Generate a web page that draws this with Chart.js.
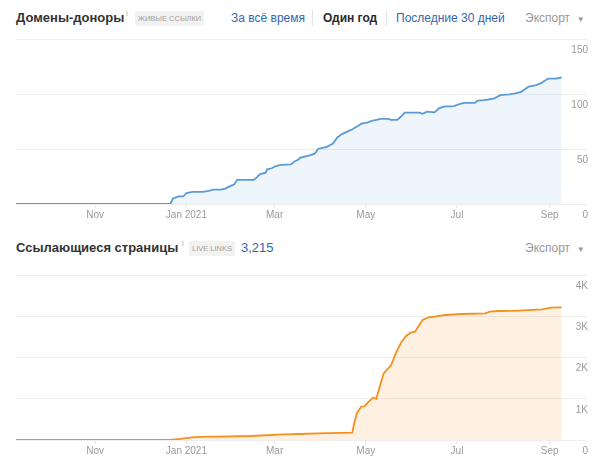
<!DOCTYPE html>
<html>
<head>
    <meta charset="utf-8">
    <title>Домены-доноры / Ссылающиеся страницы</title>
    <script src="https://cdn.jsdelivr.net/npm/chart.js"></script>
    <style>
        body { margin: 0; width: 602px; height: 463px; overflow: hidden; background: #fff;
               font-family: "Liberation Sans", Arial, sans-serif; position: relative; }
        .row { position: absolute; left: 0; width: 602px; height: 20px; }
        .row span { position: absolute; top: 0; line-height: 20px; white-space: nowrap; }
        .title { left: 16px; font-size: 13px; font-weight: bold; color: #333; }
        .info { font-size: 8px; color: #aaa; line-height: 12px !important; }
        .badge { font-size: 7.5px; color: #a0a0a0; background: #f2f2f2; padding: 0 3px;
                 line-height: 15px !important; top: 3px !important; border-radius: 2px; }
        .link { font-size: 12px; color: #2f67b1; }
        .cur { font-size: 12px; font-weight: bold; color: #2a2a2a; }
        .sep { width: 1px; height: 16px; background: #e2e2e2; top: 2px !important; }
        .export { font-size: 12px; color: #999; }
        .chartbox { position: absolute; left: 0; width: 602px; height: 196px; }
    </style>
</head>
<body>
    <div class="row" style="top: 8px;">
        <span class="title">Домены-доноры</span>
        <span class="info" style="left: 126px;">i</span>
        <span class="badge" style="left: 135px;">ЖИВЫЕ ССЫЛКИ</span>
        <span class="link" style="left: 231px;">За всё время</span>
        <span class="sep" style="left: 312px;"></span>
        <span class="cur" style="left: 323px;">Один год</span>
        <span class="sep" style="left: 386px;"></span>
        <span class="link" style="left: 396px;">Последние 30 дней</span>
        <span class="export" style="left: 525px;">Экспорт &nbsp;<span style="position: static; font-size: 8px;">▼</span></span>
    </div>
    <div class="chartbox" style="top: 30px;"><canvas id="domains"></canvas></div>

    <div class="row" style="top: 238px;">
        <span class="title">Ссылающиеся страницы</span>
        <span class="info" style="left: 182px;">i</span>
        <span class="badge" style="left: 189px;">LIVE LINKS</span>
        <span class="link" style="left: 241px; font-size: 13px;">3,215</span>
        <span class="export" style="left: 525px;">Экспорт &nbsp;<span style="position: static; font-size: 8px;">▼</span></span>
    </div>
    <div class="chartbox" style="top: 266px;"><canvas id="pages"></canvas></div>

    <script>
        // days counted from 2020-09-09
        const tickDays = [53, 114, 173, 234, 295, 357];
        const tickLabels = ['Nov', 'Jan 2021', 'Mar', 'May', 'Jul', 'Sep'];

        // Домены-доноры
        const domDays = [0, 103, 104, 105, 109, 112, 114, 118, 125, 129, 132, 137, 140, 143, 146, 148, 159, 161, 163, 167, 168, 171, 174, 177, 184, 186, 189, 190, 197, 200, 202, 208, 212, 215, 218, 222, 225, 230, 231, 235, 238, 244, 249, 251, 255, 258, 260, 270, 272, 275, 280, 283, 286, 293, 297, 300, 307, 309, 313, 316, 320, 324, 330, 334, 338, 343, 348, 351, 356, 361, 365];
        const domValues = [0, 0, 2, 5, 7, 7, 10, 11, 11, 12, 13, 13, 14, 16, 18, 22, 22, 24, 27, 28.5, 31.5, 32.5, 34.5, 35.5, 36, 38.5, 40.5, 42, 44.5, 46, 50, 52, 55, 60.5, 63.5, 66, 68, 72, 73, 74, 75.5, 77.3, 77.3, 76.5, 76.5, 80, 83, 83, 82, 84, 83.3, 87, 88.5, 89, 91, 92, 92, 94, 94.5, 95, 96, 99, 99.7, 100.6, 102, 106.7, 108, 109.7, 114, 114, 115];

        // Ссылающиеся страницы
        const pageDays = [0, 103, 110, 118, 123, 135, 157, 179, 190, 202, 225, 226, 228, 231, 233, 236, 239, 241, 243, 246, 249, 251, 254, 258, 261, 264, 267, 269, 272, 276, 280, 287, 298, 314, 317, 323, 336, 352, 358, 365];
        const pageValues = [0, 0, 25, 65, 75, 80, 97, 137, 145, 162, 180, 364, 646, 808, 815, 929, 1030, 995, 1253, 1616, 1737, 1818, 2101, 2384, 2521, 2602, 2626, 2747, 2909, 2974, 2990, 3030, 3055, 3071, 3111, 3127, 3135, 3168, 3208, 3215];

        function makeChart(id, days, values, lineColor, fillColor, yMax, yStep, yLabel) {
            const points = days.map((d, i) => ({ x: d, y: values[i] }));
            return new Chart(document.getElementById(id), {
                type: 'line',
                data: {
                    datasets: [{
                        data: points,
                        borderColor: lineColor,
                        backgroundColor: fillColor,
                        borderWidth: 1.8,
                        pointRadius: 0,
                        fill: 'origin',
                        tension: 0
                    }]
                },
                options: {
                    responsive: true,
                    maintainAspectRatio: false,
                    animation: false,
                    layout: { padding: { left: 16, right: 15, top: 9, bottom: 0 } },
                    plugins: { legend: { display: false }, tooltip: { enabled: false } },
                    scales: {
                        x: {
                            type: 'linear',
                            min: 0,
                            max: 382,
                            afterBuildTicks: (scale) => { scale.ticks = tickDays.map(v => ({ value: v })); },
                            afterFit: (scale) => { scale.height = 22; },
                            border: { display: false },
                            grid: { drawOnChartArea: false, drawTicks: true, tickLength: 4, color: '#e6e6e6' },
                            ticks: {
                                padding: 1,
                                color: '#9a9a9a',
                                font: { size: 10, family: '"Liberation Sans", Arial' },
                                maxRotation: 0,
                                autoSkip: false,
                                callback: (v, i) => tickLabels[i]
                            }
                        },
                        y: {
                            position: 'right',
                            min: 0,
                            max: yMax,
                            afterFit: (scale) => { scale.width = 0; },
                            border: { display: false },
                            grid: { color: '#eeeeee', drawTicks: false },
                            ticks: {
                                stepSize: yStep,
                                mirror: true,
                                padding: 1,
                                labelOffset: 11,
                                color: '#9a9a9a',
                                font: { size: 10, family: '"Liberation Sans", Arial' },
                                callback: yLabel
                            }
                        }
                    }
                }
            });
        }

        makeChart('domains', domDays, domValues, '#5b9bd5', 'rgba(91, 155, 213, 0.1)', 150, 50, v => v);
        makeChart('pages', pageDays, pageValues, '#f5901e', 'rgba(247, 148, 29, 0.13)', 4000, 1000,
            v => v === 0 ? '0' : (v / 1000) + 'K');
    </script>
</body>
</html>
